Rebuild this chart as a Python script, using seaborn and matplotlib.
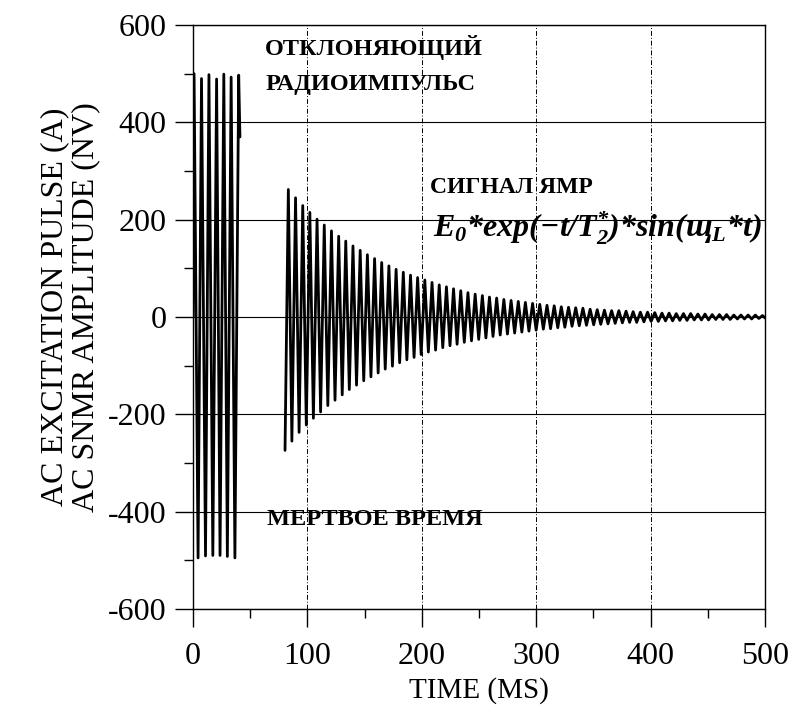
import numpy as np
import pandas as pd
import seaborn as sns
import matplotlib
matplotlib.use("Agg")
import matplotlib.pyplot as plt
from matplotlib.ticker import MultipleLocator

# excitation pulse, extrema (ms, A)
pulse_t = [0.0, 0.9, 4.4, 7.4, 10.9, 13.9, 17.3, 20.6, 23.6, 26.9, 30.0, 33.3, 36.6, 39.9, 41.0]
pulse_v = [0, 500, -495, 490, -491, 498, -490, 489, -490, 499, -492, 493, -495, 497, 370]

# SNMR signal: troughs and peaks (ms, nV)
fid_trough_t = [80.4, 86.4, 92.7, 99.0, 105.2, 111.5, 117.8, 124.1, 130.4, 136.6,
                142.9, 149.2, 155.5, 161.8, 168.0, 174.3, 180.6, 186.9, 193.2, 199.4,
                205.7, 212.0, 218.3, 224.6, 230.8, 237.1, 243.4, 249.7, 256.0, 262.2,
                268.5, 274.8, 281.1, 287.4, 293.6, 299.9, 306.2, 312.5, 318.8, 325.0,
                331.3, 337.6, 343.9, 350.2, 356.4, 362.7, 369.0, 375.3, 381.6, 387.8,
                394.1, 400.4, 406.7, 413.0, 419.2, 425.5, 431.8, 438.1, 444.4, 450.6,
                456.9, 463.2, 469.5, 475.8, 482.0, 488.3, 494.6, 500.0]
fid_trough_v = [-274, -255, -237, -222, -208, -195, -182, -171, -160, -149, -140,
                -131, -123, -115, -107, -101, -94, -88, -83, -77, -72,
                -68, -63, -59, -56, -52, -49, -46, -43, -40, -37,
                -35, -33, -31, -29, -27, -25, -24, -22, -21, -19,
                -18, -17, -16, -15, -14, -13, -12, -11, -11, -10,
                -9, -9, -8, -8, -7, -7, -6, -6, -6, -5,
                -5, -5, -4, -4, -4, -3, -2]
fid_peak_t = [83.3, 89.6, 95.9, 102.1, 108.4, 114.7, 121.0, 127.3, 133.5, 139.8,
              146.1, 152.4, 158.7, 164.9, 171.2, 177.5, 183.8, 190.1, 196.3, 202.6,
              208.9, 215.2, 221.5, 227.7, 234.0, 240.3, 246.6, 252.9, 259.1, 265.4,
              271.7, 278.0, 284.3, 290.5, 296.8, 303.1, 309.4, 315.7, 321.9, 328.2,
              334.5, 340.8, 347.1, 353.3, 359.6, 365.9, 372.2, 378.5, 384.7, 391.0,
              397.3, 403.6, 409.9, 416.1, 422.4, 428.7, 435.0, 441.3, 447.5, 453.8,
              460.1, 466.4, 472.7, 478.9, 485.2, 491.5, 497.8]
fid_peak_v = [262, 245, 229, 215, 201, 189, 177, 166, 156, 146,
              137, 128, 120, 112, 105, 98, 92, 86, 81, 76,
              71, 66, 62, 58, 54, 50, 47, 44, 41, 39,
              36, 34, 32, 30, 28, 26, 24, 23, 21, 20,
              19, 18, 16, 15, 14, 13, 13, 12, 11, 10,
              10, 9, 8, 8, 7, 7, 7, 6, 6, 5,
              5, 5, 4, 4, 4, 4, 3]

x_ticks = [0, 100, 200, 300, 400, 500]
y_ticks = [-600, -400, -200, 0, 200, 400, 600]

# interleave troughs and peaks into one trace
fid_t, fid_v = [], []
for i in range(len(fid_peak_t)):
    fid_t += [fid_trough_t[i], fid_peak_t[i]]
    fid_v += [fid_trough_v[i], fid_peak_v[i]]
fid_t.append(fid_trough_t[-1])
fid_v.append(fid_trough_v[-1])

pulse = pd.DataFrame({"t": pulse_t, "v": pulse_v})
fid = pd.DataFrame({"t": fid_t, "v": fid_v})

sns.set_style("white", {"text.color": "black", "axes.labelcolor": "black",
                        "xtick.color": "black", "ytick.color": "black"})
plt.rcParams["font.family"] = ["Liberation Serif", "DejaVu Serif"]
plt.rcParams["axes.unicode_minus"] = False
plt.rcParams["mathtext.fontset"] = "custom"
plt.rcParams["mathtext.rm"] = "Liberation Serif"
plt.rcParams["mathtext.it"] = "Liberation Serif:italic"
plt.rcParams["mathtext.bf"] = "Liberation Serif:bold"
plt.rcParams["mathtext.bfit"] = "Liberation Serif:bold:italic"

fig = plt.figure(figsize=(8.06, 7.19), dpi=100)
ax = fig.add_axes([0.2395, 0.153, 0.7097, 0.8122])

sns.lineplot(data=pulse, x="t", y="v", sort=False, estimator=None,
             color="black", lw=2.0, ax=ax)
sns.lineplot(data=fid, x="t", y="v", sort=False, estimator=None,
             color="black", lw=2.0, ax=ax)

ax.set_xlim(0, 500)
ax.set_ylim(-600, 600)
ax.set_xticks(x_ticks)
ax.set_yticks(y_ticks)
ax.xaxis.set_minor_locator(MultipleLocator(50))
ax.yaxis.set_minor_locator(MultipleLocator(100))
ax.tick_params(which="major", direction="out", length=13, width=1, labelsize=23,
               left=True, bottom=True, pad=6, colors="black")
ax.tick_params(axis="x", which="major", pad=11)
ax.tick_params(which="minor", direction="out", length=6.5, width=1,
               left=True, bottom=True)

ax.set_axisbelow(True)
ax.yaxis.grid(True, which="major", color="black", ls="-", lw=0.8)
ax.xaxis.grid(True, which="major", color="black", ls=(0, (5, 2, 1, 2)), lw=0.7)
for s in ax.spines.values():
    s.set_color("black")
    s.set_linewidth(1.0)

ax.set_xlabel("TIME (MS)", fontsize=21, labelpad=4)
ax.set_ylabel("AC EXCITATION PULSE (A)\nAC SNMR AMPLITUDE (NV)", fontsize=23,
              linespacing=1.05)
ax.yaxis.set_label_coords(-0.163, 0.517)

ax.text(63, 553, "ОТКЛОНЯЮЩИЙ", fontsize=17.5, fontweight="bold", va="center")
ax.text(63, 477, "РАДИОИМПУЛЬС", fontsize=17.5, fontweight="bold", va="center")
ax.text(207, 267, "СИГНАЛ ЯМР", fontsize=17, fontweight="bold", va="center")
ax.text(210, 183, r"$\mathbfit{E_0{*}exp(-t/T_2^{*}){*}sin(щ_L{*}t)}$",
        fontsize=23, va="center")
ax.text(65, -417, "МЕРТВОЕ ВРЕМЯ", fontsize=17.5, fontweight="bold", va="center")

fig.savefig("out.png", dpi=100)
